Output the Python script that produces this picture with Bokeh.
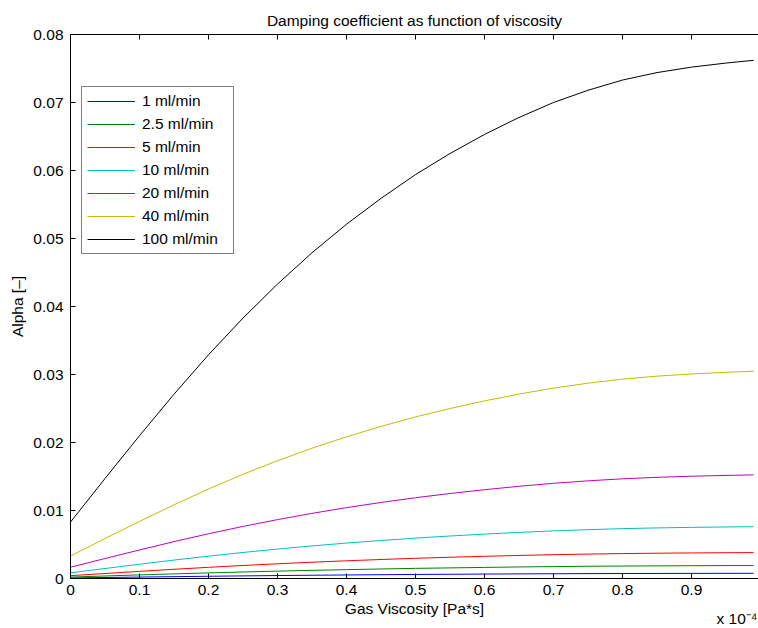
from bokeh.plotting import figure
from bokeh.models import Range1d, LinearAxis, FixedTicker, Legend, LegendItem, Title
from bokeh.embed import file_html
from bokeh.resources import INLINE

# Gas viscosity in units of 1e-4 Pa*s
viscosity = [0.0, 0.05, 0.10, 0.15, 0.20, 0.25, 0.30, 0.35, 0.40, 0.45, 0.50,
             0.55, 0.60, 0.65, 0.70, 0.75, 0.80, 0.85, 0.90, 0.95, 0.99]

alpha_1 = [0.000083, 0.000147, 0.000210, 0.000271, 0.000329, 0.000383, 0.000433, 0.000479, 0.000521, 0.000559, 0.000594,
           0.000625, 0.000653, 0.000678, 0.000700, 0.000718, 0.000733, 0.000744, 0.000752, 0.000758, 0.000762]
alpha_2_5 = [0.00021, 0.00037, 0.00053, 0.00068, 0.00082, 0.00096, 0.00108, 0.00120, 0.00130, 0.00140, 0.00149,
             0.00156, 0.00163, 0.00170, 0.00175, 0.00180, 0.00183, 0.00186, 0.00188, 0.00190, 0.00190]
alpha_5 = [0.000415, 0.000735, 0.00105, 0.001355, 0.001645, 0.001915, 0.002165, 0.002395, 0.002605, 0.002795, 0.00297,
           0.003125, 0.003265, 0.00339, 0.0035, 0.00359, 0.003665, 0.00372, 0.00376, 0.00379, 0.00381]
alpha_10 = [0.00083, 0.00147, 0.00210, 0.00271, 0.00329, 0.00383, 0.00433, 0.00479, 0.00521, 0.00559, 0.00594,
            0.00625, 0.00653, 0.00678, 0.00700, 0.00718, 0.00733, 0.00744, 0.00752, 0.00758, 0.00762]
alpha_20 = [0.00166, 0.00294, 0.00420, 0.00542, 0.00658, 0.00766, 0.00866, 0.00958, 0.01042, 0.01118, 0.01188,
            0.01250, 0.01306, 0.01356, 0.01400, 0.01436, 0.01466, 0.01488, 0.01504, 0.01516, 0.01524]
alpha_40 = [0.00332, 0.00588, 0.00840, 0.01084, 0.01316, 0.01532, 0.01732, 0.01916, 0.02084, 0.02236, 0.02376,
            0.02500, 0.02612, 0.02712, 0.02800, 0.02872, 0.02932, 0.02976, 0.03008, 0.03032, 0.03048]
alpha_100 = [0.0083, 0.0147, 0.0210, 0.0271, 0.0329, 0.0383, 0.0433, 0.0479, 0.0521, 0.0559, 0.0594,
             0.0625, 0.0653, 0.0678, 0.0700, 0.0718, 0.0733, 0.0744, 0.0752, 0.0758, 0.0762]

series_labels = ["1 ml/min", "2.5 ml/min", "5 ml/min", "10 ml/min", "20 ml/min", "40 ml/min", "100 ml/min"]
series_values = [alpha_1, alpha_2_5, alpha_5, alpha_10, alpha_20, alpha_40, alpha_100]
series_colors = ["#0000ff", "#008000", "#ff0000", "#00bfbf", "#bf00bf", "#bfbf00", "#000000"]

x_ticks = [0, 0.1, 0.2, 0.3, 0.4, 0.5, 0.6, 0.7, 0.8, 0.9, 1.0]
x_tick_labels = ["0", "0.1", "0.2", "0.3", "0.4", "0.5", "0.6", "0.7", "0.8", "0.9", "1"]
y_ticks = [0, 0.01, 0.02, 0.03, 0.04, 0.05, 0.06, 0.07, 0.08]
y_tick_labels = ["0", "0.01", "0.02", "0.03", "0.04", "0.05", "0.06", "0.07", "0.08"]

FONT = "Liberation Sans"
FS = "15.5px"

p = figure(width=758, height=628, output_backend="svg", toolbar_location=None,
           x_range=Range1d(0, 0.9971), y_range=Range1d(0, 0.08),
           min_border_left=70, min_border_right=0, min_border_top=34, min_border_bottom=50,
           background_fill_color="white", border_fill_color="white")
p.outline_line_color = None
p.xgrid.visible = False
p.ygrid.visible = False

p.title.text = "Damping coefficient as function of viscosity"
p.title.align = "center"
p.title.text_font = FONT
p.title.text_font_size = FS
p.title.text_font_style = "normal"
p.title.text_color = "black"
p.title.standoff = 12

def style_axis(ax, ticks, labels, show_labels=True):
    ax.ticker = FixedTicker(ticks=ticks)
    ax.major_label_overrides = {t: l for t, l in zip(ticks, labels)}
    ax.major_tick_in = 5
    ax.major_tick_out = 0
    ax.minor_tick_in = 0
    ax.minor_tick_out = 0
    ax.axis_line_color = "black"
    ax.axis_line_width = 1
    ax.major_tick_line_color = "black"
    ax.major_label_text_font = FONT
    ax.major_label_text_color = "black"
    if show_labels:
        ax.major_label_text_font_size = FS
    else:
        ax.major_label_text_font_size = "1px"
        ax.major_label_text_alpha = 0
        ax.major_label_standoff = 0
    ax.axis_label_text_font = FONT
    ax.axis_label_text_font_size = FS
    ax.axis_label_text_font_style = "normal"
    ax.axis_label_text_color = "black"

xa = p.xaxis[0]
style_axis(xa, x_ticks, x_tick_labels)
xa.axis_label = "Gas Viscosity [Pa*s]"
xa.major_label_standoff = 6
xa.axis_label_standoff = 2

ya = p.yaxis[0]
style_axis(ya, y_ticks, y_tick_labels)
ya.axis_label = "Alpha [–]"
ya.major_label_standoff = 7
ya.axis_label_standoff = 4

top_axis = LinearAxis()
style_axis(top_axis, x_ticks, ["" for _ in x_ticks], show_labels=False)
p.add_layout(top_axis, "above")

items = []
for lab, vals, col in zip(series_labels, series_values, series_colors):
    r = p.line(viscosity, vals, line_color=col, line_width=1)
    items.append(LegendItem(label=lab, renderers=[r]))

legend = Legend(items=items, location=(11, 324),
                border_line_color="black", border_line_width=1,
                background_fill_color="white", background_fill_alpha=1,
                label_text_font=FONT, label_text_font_size=FS, label_text_color="black",
                glyph_width=48, glyph_height=18, label_height=18, label_width=86,
                padding=5, spacing=5, label_standoff=7, margin=0)
p.add_layout(legend, "center")

# exponent note below the right end of the x axis
exponent_note = Title(text="x 10\u207b\u2074", align="right", vertical_align="top",
                      standoff=-19, offset=1,
                      text_font=FONT, text_font_size=FS, text_font_style="normal",
                      text_color="black")
p.add_layout(exponent_note, "below")

open("out.html", "w").write(file_html(p, INLINE))
